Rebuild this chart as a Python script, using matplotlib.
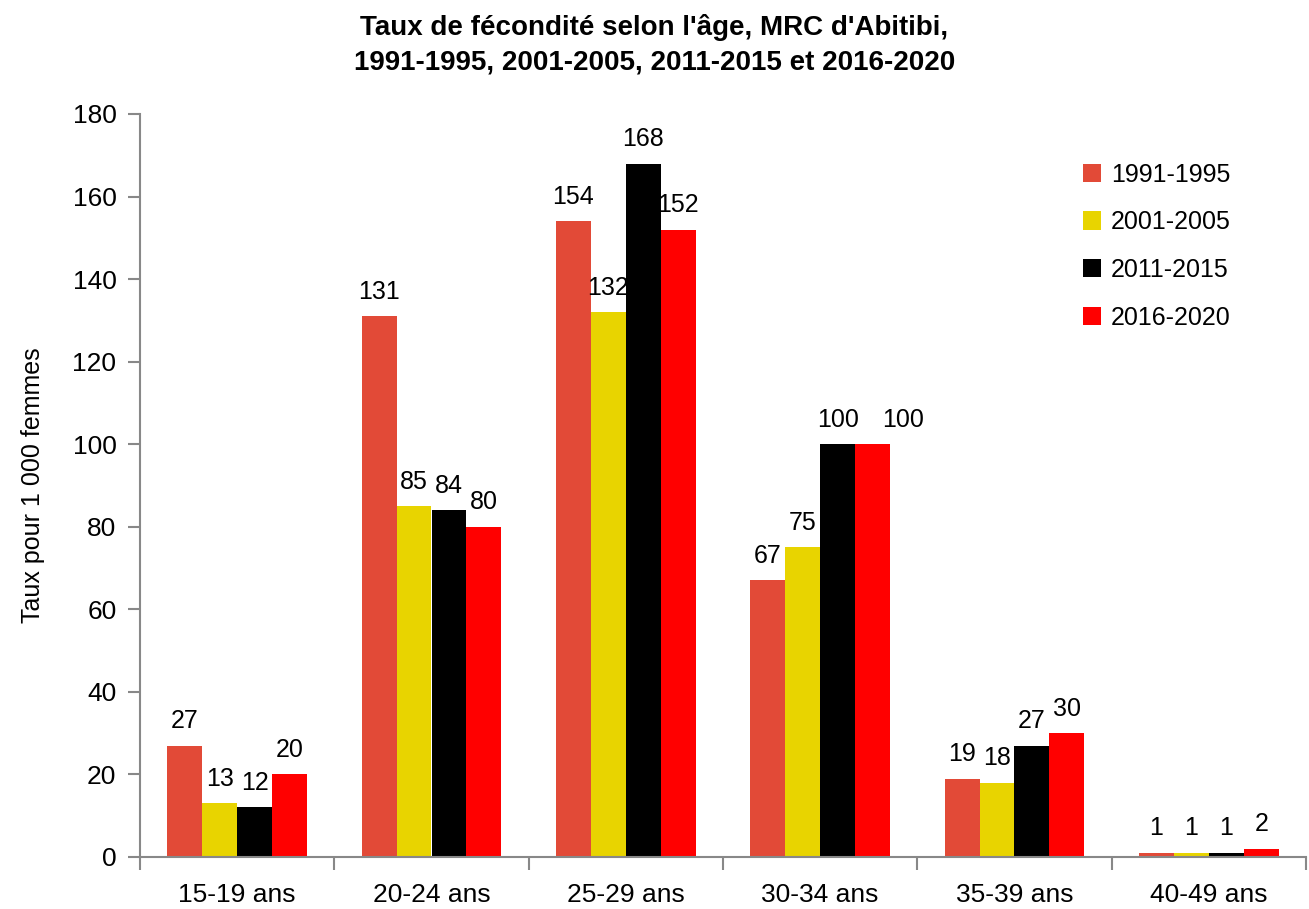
import matplotlib
matplotlib.use("Agg")
import matplotlib.pyplot as plt
import numpy as np
from matplotlib import font_manager

names = {f.name for f in font_manager.fontManager.ttflist}
fam = ['Liberation Sans Narrow', 'Liberation Sans', 'DejaVu Sans'] if 'Liberation Sans Narrow' in names else ['Liberation Sans', 'DejaVu Sans']
plt.rcParams['font.family'] = fam

categories = ["15-19 ans", "20-24 ans", "25-29 ans", "30-34 ans", "35-39 ans", "40-49 ans"]
series_names = ["1991-1995", "2001-2005", "2011-2015", "2016-2020"]
v1991 = [27, 131, 154, 67, 19, 1]
v2001 = [13, 85, 132, 75, 18, 1]
v2011 = [12, 84, 168, 100, 27, 1]
v2016 = [20, 80, 152, 100, 30, 2]
colors = ["#E24A37", "#E8D400", "#000000", "#FF0000"]
title = "Taux de fécondité selon l'âge, MRC d'Abitibi,\n1991-1995, 2001-2005, 2011-2015 et 2016-2020"
ylabel = "Taux pour 1 000 femmes"

# label nudges (series index, category index) -> x offset in points
label_nudge = {(3, 3): 22}

fig = plt.figure(figsize=(13.09, 9.09), dpi=100)
ax = fig.add_axes([140/1309, 1-857/909, (1306-140)/1309, (857-114)/909])

x = np.arange(len(categories))
w = 0.18
for i, (vals, c, n) in enumerate(zip([v1991, v2001, v2011, v2016], colors, series_names)):
    pos = x + (i - 1.5) * w
    ax.bar(pos, vals, width=w, color=c, label=n)
    for j, (p, v) in enumerate(zip(pos, vals)):
        ax.annotate(f"{v}", (p, v), xytext=(label_nudge.get((i, j), 0), 9), textcoords='offset points',
                    ha='center', va='bottom', fontsize=18)

ax.set_xlim(-0.5, len(categories) - 0.5)
ax.set_ylim(0, 180)
ax.set_yticks(range(0, 181, 20))
ax.set_xticks(x)
ax.set_xticklabels(categories, fontsize=19)
ax.tick_params(axis='x', length=0, pad=19)
ax.set_xticks(np.arange(-0.5, len(categories)), minor=True)
ax.tick_params(axis='x', which='minor', length=9, color='#888888', width=1.5)
ax.tick_params(axis='y', labelsize=19, length=9, color='#888888', width=1.5, pad=8)
for s in ['top', 'right']:
    ax.spines[s].set_visible(False)
for s in ['left', 'bottom']:
    ax.spines[s].set_color('#888888')
    ax.spines[s].set_linewidth(1.5)

ax.set_ylabel(ylabel, fontsize=18, labelpad=20)
fig.text(0.5, 1-45/909, title, ha='center', va='center', fontsize=20, fontweight='bold', linespacing=1.45)

leg = ax.legend(loc='upper left', bbox_to_anchor=(1060/1309, 1-140/909), bbox_transform=fig.transFigure,
                frameon=False, fontsize=18, handlelength=0.75, handleheight=0.75, handletextpad=0.4,
                labelspacing=0.95)

fig.savefig("out.png", dpi=100)
